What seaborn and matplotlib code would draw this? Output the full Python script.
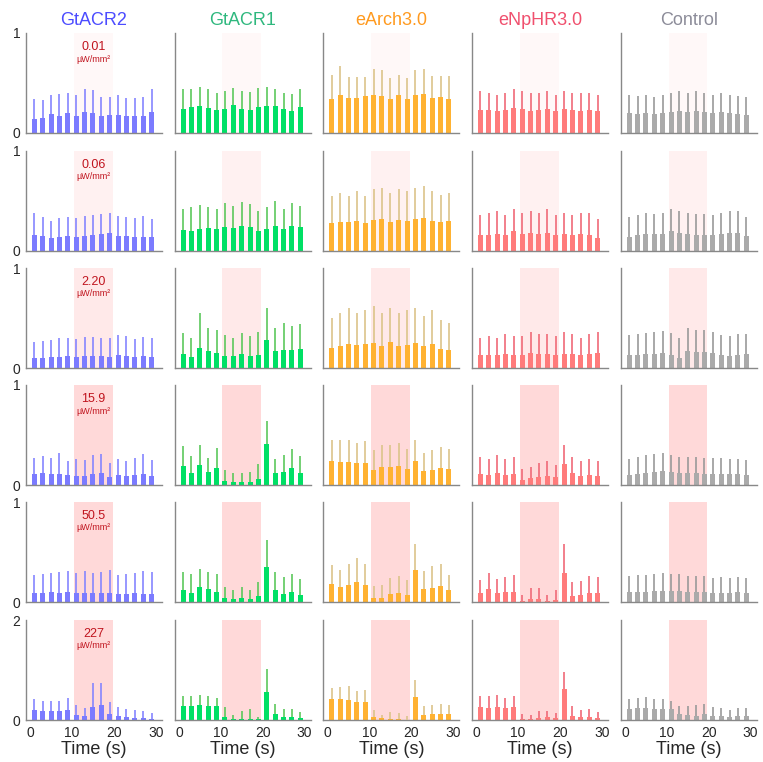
import numpy as np
import matplotlib
matplotlib.use("Agg")
import matplotlib.pyplot as plt
import seaborn as sns

# bin centres (s)
time_s = [1, 3, 5, 7, 9, 11, 13, 15, 17, 19, 21, 23, 25, 27, 29]
opsins = ["GtACR2", "GtACR1", "eArch3.0", "eNpHR3.0", "Control"]
intensities = ["0.01", "0.06", "2.20", "15.9", "50.5", "227"]

# mean per bin, one row per light intensity
gtacr2_mean = [
    [0.14, 0.15, 0.19, 0.17, 0.20, 0.17, 0.21, 0.20, 0.17, 0.18, 0.18, 0.17, 0.17, 0.17, 0.21],
    [0.16, 0.15, 0.13, 0.14, 0.15, 0.14, 0.15, 0.16, 0.17, 0.18, 0.15, 0.15, 0.14, 0.14, 0.14],
    [0.10, 0.10, 0.11, 0.11, 0.12, 0.11, 0.12, 0.12, 0.12, 0.11, 0.13, 0.12, 0.11, 0.12, 0.11],
    [0.11, 0.12, 0.11, 0.11, 0.10, 0.09, 0.09, 0.11, 0.12, 0.08, 0.10, 0.09, 0.10, 0.11, 0.09],
    [0.09, 0.09, 0.10, 0.09, 0.10, 0.09, 0.09, 0.09, 0.09, 0.09, 0.08, 0.08, 0.09, 0.08, 0.08],
    [0.20, 0.18, 0.18, 0.19, 0.20, 0.11, 0.08, 0.27, 0.30, 0.12, 0.08, 0.07, 0.05, 0.05, 0.03],
]
# upper end of the error bar
gtacr2_upper = [
    [0.34, 0.33, 0.38, 0.39, 0.40, 0.38, 0.44, 0.43, 0.36, 0.36, 0.38, 0.35, 0.35, 0.36, 0.44],
    [0.38, 0.34, 0.30, 0.33, 0.34, 0.33, 0.35, 0.36, 0.37, 0.38, 0.35, 0.34, 0.33, 0.35, 0.32],
    [0.26, 0.27, 0.28, 0.30, 0.30, 0.29, 0.31, 0.31, 0.30, 0.30, 0.33, 0.32, 0.29, 0.31, 0.30],
    [0.27, 0.29, 0.27, 0.32, 0.24, 0.26, 0.25, 0.30, 0.31, 0.22, 0.26, 0.24, 0.27, 0.31, 0.25],
    [0.27, 0.28, 0.29, 0.30, 0.31, 0.29, 0.31, 0.29, 0.30, 0.32, 0.27, 0.28, 0.29, 0.31, 0.30],
    [0.42, 0.38, 0.38, 0.38, 0.44, 0.30, 0.25, 0.75, 0.75, 0.36, 0.26, 0.22, 0.20, 0.18, 0.15],
]

gtacr1_mean = [
    [0.24, 0.26, 0.27, 0.25, 0.23, 0.24, 0.28, 0.24, 0.23, 0.26, 0.27, 0.27, 0.24, 0.22, 0.26],
    [0.21, 0.20, 0.22, 0.23, 0.22, 0.24, 0.23, 0.25, 0.24, 0.20, 0.22, 0.25, 0.22, 0.25, 0.24],
    [0.14, 0.11, 0.20, 0.17, 0.15, 0.12, 0.12, 0.14, 0.12, 0.13, 0.28, 0.17, 0.18, 0.18, 0.19],
    [0.19, 0.12, 0.20, 0.13, 0.17, 0.04, 0.03, 0.03, 0.03, 0.06, 0.41, 0.12, 0.13, 0.17, 0.12],
    [0.12, 0.09, 0.15, 0.13, 0.10, 0.04, 0.03, 0.04, 0.03, 0.06, 0.35, 0.12, 0.08, 0.10, 0.07],
    [0.29, 0.29, 0.31, 0.29, 0.28, 0.06, 0.02, 0.03, 0.03, 0.02, 0.57, 0.12, 0.07, 0.07, 0.05],
]
gtacr1_upper = [
    [0.44, 0.44, 0.46, 0.44, 0.40, 0.42, 0.45, 0.42, 0.41, 0.45, 0.46, 0.44, 0.40, 0.39, 0.44],
    [0.42, 0.44, 0.46, 0.44, 0.42, 0.48, 0.45, 0.49, 0.47, 0.40, 0.44, 0.50, 0.42, 0.48, 0.45],
    [0.35, 0.30, 0.55, 0.40, 0.38, 0.33, 0.30, 0.35, 0.32, 0.36, 0.60, 0.40, 0.45, 0.42, 0.44],
    [0.39, 0.29, 0.40, 0.27, 0.37, 0.15, 0.12, 0.12, 0.13, 0.21, 0.64, 0.26, 0.30, 0.36, 0.29],
    [0.30, 0.28, 0.33, 0.30, 0.28, 0.15, 0.12, 0.15, 0.12, 0.20, 0.62, 0.30, 0.25, 0.28, 0.23],
    [0.48, 0.49, 0.51, 0.48, 0.45, 0.26, 0.11, 0.19, 0.22, 0.07, 1.02, 0.32, 0.23, 0.23, 0.17],
]

earch_mean = [
    [0.34, 0.38, 0.35, 0.35, 0.37, 0.38, 0.37, 0.34, 0.38, 0.34, 0.38, 0.39, 0.35, 0.36, 0.34],
    [0.28, 0.29, 0.29, 0.30, 0.28, 0.31, 0.32, 0.29, 0.31, 0.30, 0.32, 0.33, 0.30, 0.29, 0.30],
    [0.20, 0.22, 0.24, 0.23, 0.24, 0.25, 0.22, 0.26, 0.22, 0.23, 0.25, 0.22, 0.24, 0.19, 0.18],
    [0.24, 0.23, 0.23, 0.22, 0.22, 0.15, 0.18, 0.18, 0.19, 0.16, 0.24, 0.14, 0.15, 0.17, 0.16],
    [0.18, 0.15, 0.17, 0.20, 0.17, 0.04, 0.04, 0.08, 0.09, 0.07, 0.32, 0.13, 0.14, 0.16, 0.12],
    [0.42, 0.42, 0.41, 0.37, 0.36, 0.06, 0.04, 0.03, 0.03, 0.01, 0.47, 0.11, 0.12, 0.13, 0.13],
]
earch_upper = [
    [0.58, 0.67, 0.56, 0.56, 0.56, 0.64, 0.63, 0.55, 0.58, 0.55, 0.63, 0.64, 0.57, 0.57, 0.57],
    [0.55, 0.58, 0.55, 0.60, 0.55, 0.62, 0.63, 0.58, 0.62, 0.60, 0.63, 0.65, 0.60, 0.56, 0.58],
    [0.50, 0.55, 0.60, 0.55, 0.58, 0.62, 0.55, 0.60, 0.55, 0.58, 0.60, 0.52, 0.58, 0.48, 0.45],
    [0.45, 0.45, 0.45, 0.42, 0.44, 0.35, 0.40, 0.40, 0.42, 0.36, 0.45, 0.32, 0.35, 0.38, 0.36],
    [0.37, 0.32, 0.38, 0.44, 0.38, 0.16, 0.17, 0.24, 0.26, 0.22, 0.58, 0.31, 0.36, 0.38, 0.27],
    [0.65, 0.67, 0.68, 0.59, 0.61, 0.20, 0.10, 0.16, 0.15, 0.09, 0.81, 0.28, 0.30, 0.32, 0.31],
]

enphr_mean = [
    [0.23, 0.23, 0.22, 0.23, 0.25, 0.24, 0.22, 0.23, 0.24, 0.22, 0.24, 0.23, 0.22, 0.23, 0.22],
    [0.16, 0.16, 0.17, 0.16, 0.20, 0.17, 0.18, 0.17, 0.18, 0.16, 0.17, 0.16, 0.17, 0.16, 0.13],
    [0.13, 0.13, 0.13, 0.14, 0.13, 0.13, 0.15, 0.14, 0.14, 0.13, 0.14, 0.14, 0.13, 0.14, 0.15],
    [0.11, 0.10, 0.12, 0.10, 0.11, 0.05, 0.07, 0.08, 0.09, 0.08, 0.21, 0.12, 0.09, 0.10, 0.09],
    [0.09, 0.13, 0.09, 0.10, 0.10, 0.01, 0.03, 0.03, 0.01, 0.02, 0.29, 0.06, 0.07, 0.09, 0.09],
    [0.27, 0.25, 0.27, 0.24, 0.27, 0.03, 0.02, 0.05, 0.06, 0.05, 0.63, 0.09, 0.07, 0.07, 0.05],
]
enphr_upper = [
    [0.42, 0.40, 0.38, 0.40, 0.44, 0.42, 0.40, 0.40, 0.42, 0.38, 0.42, 0.40, 0.40, 0.40, 0.38],
    [0.36, 0.38, 0.40, 0.36, 0.42, 0.38, 0.40, 0.38, 0.42, 0.36, 0.38, 0.36, 0.38, 0.38, 0.32],
    [0.30, 0.32, 0.30, 0.34, 0.32, 0.32, 0.36, 0.34, 0.34, 0.32, 0.36, 0.34, 0.30, 0.34, 0.36],
    [0.28, 0.26, 0.30, 0.26, 0.28, 0.16, 0.18, 0.22, 0.24, 0.20, 0.40, 0.28, 0.24, 0.26, 0.24],
    [0.22, 0.29, 0.23, 0.25, 0.27, 0.07, 0.14, 0.14, 0.07, 0.12, 0.58, 0.20, 0.21, 0.26, 0.25],
    [0.49, 0.48, 0.50, 0.44, 0.48, 0.13, 0.11, 0.19, 0.19, 0.14, 0.96, 0.28, 0.20, 0.22, 0.17],
]

control_mean = [
    [0.20, 0.19, 0.20, 0.19, 0.20, 0.21, 0.22, 0.21, 0.22, 0.21, 0.20, 0.21, 0.20, 0.19, 0.18],
    [0.14, 0.16, 0.17, 0.17, 0.17, 0.20, 0.18, 0.17, 0.16, 0.16, 0.16, 0.17, 0.18, 0.18, 0.15],
    [0.13, 0.13, 0.14, 0.14, 0.15, 0.13, 0.10, 0.17, 0.16, 0.16, 0.15, 0.13, 0.12, 0.13, 0.14],
    [0.10, 0.11, 0.12, 0.13, 0.14, 0.13, 0.12, 0.12, 0.12, 0.11, 0.11, 0.11, 0.11, 0.11, 0.10],
    [0.10, 0.10, 0.10, 0.11, 0.11, 0.11, 0.11, 0.10, 0.10, 0.10, 0.09, 0.09, 0.09, 0.10, 0.09],
    [0.22, 0.24, 0.25, 0.23, 0.22, 0.22, 0.13, 0.11, 0.09, 0.12, 0.09, 0.09, 0.07, 0.09, 0.09],
]
control_upper = [
    [0.38, 0.37, 0.38, 0.36, 0.38, 0.40, 0.42, 0.40, 0.42, 0.40, 0.38, 0.40, 0.38, 0.37, 0.36],
    [0.34, 0.36, 0.38, 0.37, 0.38, 0.42, 0.40, 0.38, 0.37, 0.37, 0.36, 0.38, 0.40, 0.40, 0.34],
    [0.33, 0.34, 0.35, 0.36, 0.37, 0.35, 0.30, 0.40, 0.38, 0.38, 0.36, 0.33, 0.32, 0.34, 0.34],
    [0.26, 0.28, 0.30, 0.31, 0.32, 0.30, 0.28, 0.28, 0.28, 0.27, 0.27, 0.27, 0.26, 0.26, 0.25],
    [0.26, 0.27, 0.27, 0.28, 0.29, 0.28, 0.28, 0.26, 0.26, 0.26, 0.24, 0.25, 0.24, 0.25, 0.24],
    [0.42, 0.45, 0.47, 0.43, 0.43, 0.39, 0.28, 0.28, 0.30, 0.32, 0.26, 0.25, 0.20, 0.25, 0.24],
]

means = [gtacr2_mean, gtacr1_mean, earch_mean, enphr_mean, control_mean]
uppers = [gtacr2_upper, gtacr1_upper, earch_upper, enphr_upper, control_upper]

bar_colors = ["#7b7bff", "#00e065", "#ffb232", "#ff7b7b", "#aaaaaa"]
err_colors = ["#8585ff", "#5cc85c", "#dcc48a", "#f06a78", "#9a9a9a"]
title_colors = ["#4c4cff", "#2fb87e", "#ff9a1f", "#f0506e", "#8c8c99"]
shade_alpha = [0.04, 0.09, 0.14, 0.24, 0.24, 0.24]

sns.set_style("white")
plt.rcParams["font.family"] = ["Liberation Sans", "DejaVu Sans"]

fig = plt.figure(figsize=(7.63, 7.62), dpi=100)
W, H = 763.0, 762.0
lefts = [26, 174.7, 323.4, 472, 620.8]
tops = [33, 151, 268, 385, 502, 620]
ax_w, ax_h = 136, 100

for r in range(6):
    ymax = 2 if r == 5 else 1
    for c in range(5):
        ax = fig.add_axes([lefts[c] / W, 1 - (tops[r] + ax_h) / H, ax_w / W, ax_h / H])
        m = np.array(means[c][r])
        up = np.array(uppers[c][r])
        ax.axvspan(10.4, 19.7, ymin=0, ymax=1, color="#ff6464", alpha=shade_alpha[r], lw=0, zorder=0)
        sns.barplot(x=time_s, y=m, native_scale=True, width=0.6, color=bar_colors[c],
                    saturation=1, errorbar=None, linewidth=0, edgecolor="none", ax=ax, zorder=2)
        ax.vlines(time_s, m, up, color=err_colors[c], lw=1.2, zorder=3)
        ax.set_xlim(-1, 31.5)
        ax.set_ylim(0, ymax)
        ax.set_xticks([0, 10, 20, 30])
        ax.set_yticks([0, ymax / 2, ymax])
        for s in ["top", "right"]:
            ax.spines[s].set_visible(False)
        for s in ["left", "bottom"]:
            ax.spines[s].set_color("#888888")
            ax.spines[s].set_linewidth(1.0)
        ax.tick_params(axis="both", length=2, width=0.8, color="#888888", labelsize=10, pad=2)
        if c == 0:
            ax.set_yticklabels(["0", "", str(ymax)])
        else:
            ax.set_yticklabels([])
        if r == 5:
            ax.set_xticklabels(["0", "10", "20", "30"])
            ax.set_xlabel("Time (s)", fontsize=13, labelpad=1)
        else:
            ax.set_xticklabels([])
        ax.set_ylabel("")
        if r == 0:
            ax.set_title(opsins[c], color=title_colors[c], fontsize=13, pad=6)
        if c == 0:
            ax.text(15.1, ymax * 0.86, intensities[r], color="#c0141e", fontsize=9, ha="center", va="center")
            ax.text(15.1, ymax * 0.74, "\u00b5W/mm\u00b2", color="#c0141e", fontsize=6.5, ha="center", va="center")

fig.savefig("out.png", dpi=100)
